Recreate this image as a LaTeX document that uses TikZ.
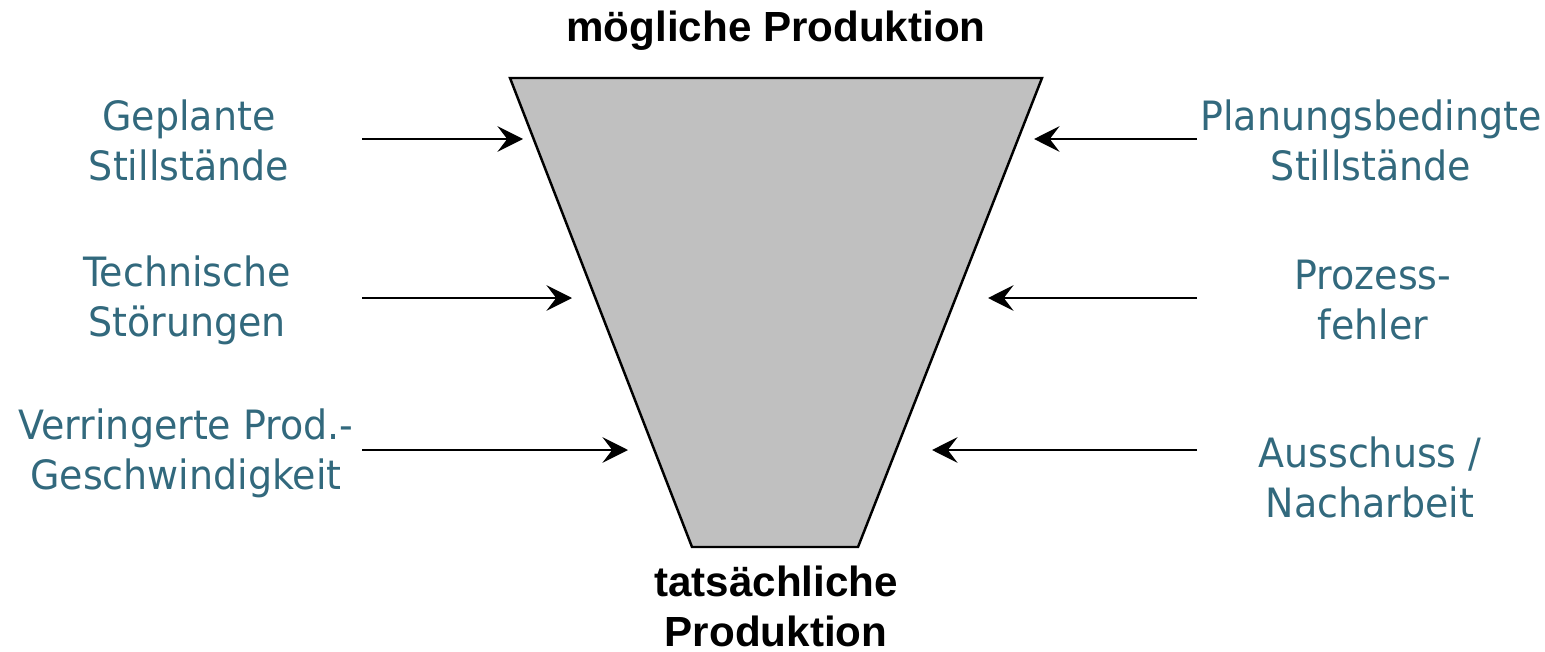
\documentclass[tikz,border=0pt]{standalone}
\usepackage{fontspec}
\usepackage{xcolor}
\usepackage{tikz}
\usetikzlibrary{arrows.meta}
\newfontfamily\lossfont[FakeStretch=0.94]{DejaVu Sans}
\newfontfamily\headfont{Liberation Sans}
\definecolor{losscol}{RGB}{50,105,125}
\definecolor{funnelcol}{RGB}{192,192,192}
\tikzset{
  loss label/.style={align=center,text=losscol,inner sep=0pt,font=\lossfont\fontsize{23}{28.4}\selectfont},
  head label/.style={align=center,inner sep=0pt,font=\headfont\bfseries\fontsize{24}{28.4}\selectfont},
  funnel/.style={draw=black,fill=funnelcol,line width=1.4pt},
  loss arrow/.style={-{Stealth[length=14.5pt,width=14.5pt,inset=5.5pt]},line width=1.4pt}
}
\begin{document}
\begin{tikzpicture}[x=0.02cm,y=-0.02cm]
  \useasboundingbox (0,0) rectangle (1545,652);
  % funnel from possible to actual output
  \draw[funnel] (510,78) coordinate (ftl) -- (1042,78) coordinate (ftr)
    -- (858,547) coordinate (fbr) -- (692,547) coordinate (fbl) -- cycle;
  \node[head label,anchor=base] (possible) at (776,42) {mögliche Produktion};
  \node[head label] (actual) at (776,606) {tatsächliche\\Produktion};
  % losses on the left
  \node[loss label] (planned) at (189,140) {Geplante\\Stillstände};
  \node[loss label] (technical) at (187,300) {Technische\\Störungen};
  \node[loss label] (speed) at (186,453) {Verringerte Prod.-\\Geschwindigkeit};
  % losses on the right
  \node[loss label] (planning) at (1371,140) {Planungsbedingte\\Stillstände};
  \node[loss label] (process) at (1373,300) {Prozess-\\fehler};
  \node[loss label] (scrap) at (1370,477) {Ausschuss /\\Nacharbeit};
  % arrows into the funnel
  \foreach \n/\y/\xl/\xr in {1/139/523/1034, 2/298/572/988, 3/450/628/932}{
    \coordinate (ls\n) at (362,\y); \coordinate (le\n) at (\xl,\y);
    \coordinate (rs\n) at (1197,\y); \coordinate (re\n) at (\xr,\y);
    \draw[loss arrow] (ls\n) -- (le\n);
    \draw[loss arrow] (rs\n) -- (re\n);
  }
\end{tikzpicture}
\end{document}
